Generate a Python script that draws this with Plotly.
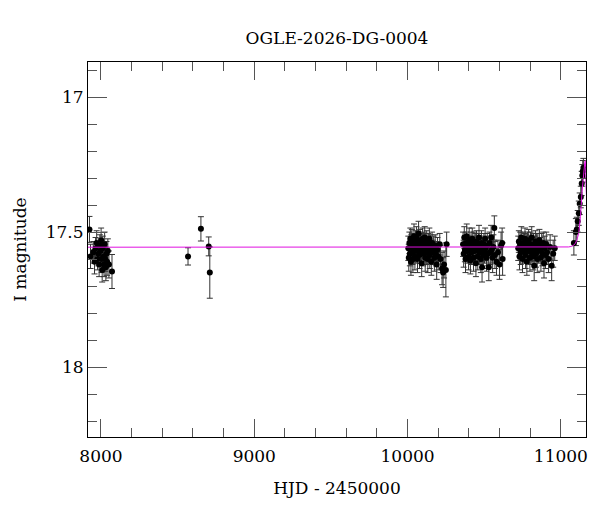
import plotly.graph_objects as go

# ---------------- data ----------------
s0_hjd = [7925, 7932, 7950, 7958, 7965, 7972, 7978, 7983, 7988, 7993, 7997, 8001, 8005,
          8008, 8012, 8016, 8020, 8024, 8028, 8032, 8036, 8040, 8045, 8052, 8072]
s0_mag = [17.490, 17.590, 17.575, 17.610, 17.560, 17.540, 17.600, 17.580, 17.620, 17.550,
          17.570, 17.530, 17.600, 17.640, 17.560, 17.590, 17.620, 17.545, 17.600, 17.630,
          17.580, 17.610, 17.570, 17.620, 17.646]
s0_err = [0.048, 0.045, 0.040, 0.045, 0.040, 0.045, 0.040, 0.045, 0.045, 0.040,
          0.045, 0.045, 0.050, 0.045, 0.045, 0.040, 0.045, 0.045, 0.045, 0.050,
          0.045, 0.050, 0.045, 0.050, 0.063]

iso_hjd = [8568, 8652, 8703, 8710]
iso_mag = [17.590, 17.488, 17.553, 17.650]
iso_err = [0.032, 0.045, 0.035, 0.095]

sa_hjd = [10005, 10008, 10012, 10015, 10018, 10022, 10025, 10028, 10032, 10035,
          10038, 10042, 10045, 10048, 10052, 10055, 10058, 10062, 10065, 10068,
          10072, 10075, 10078, 10082, 10085, 10088, 10092, 10095, 10098, 10102,
          10105, 10108, 10112, 10115, 10118, 10122, 10125, 10128, 10132, 10135,
          10138, 10142, 10145, 10150, 10155, 10160, 10165, 10170, 10175, 10180,
          10185, 10190, 10195, 10200, 10210, 10215, 10225, 10232, 10238, 10250, 10255]
sa_mag = [17.560, 17.595, 17.540, 17.580, 17.525, 17.610, 17.555, 17.530, 17.575, 17.600,
          17.545, 17.515, 17.565, 17.590, 17.535, 17.570, 17.520, 17.555, 17.600, 17.540,
          17.505, 17.560, 17.585, 17.530, 17.570, 17.545, 17.615, 17.555, 17.525, 17.580,
          17.540, 17.565, 17.520, 17.595, 17.550, 17.575, 17.535, 17.560, 17.600, 17.545,
          17.570, 17.525, 17.585, 17.555, 17.610, 17.540, 17.575, 17.560, 17.595, 17.550,
          17.580, 17.620, 17.565, 17.590, 17.545, 17.600, 17.635, 17.650, 17.620, 17.640, 17.545]
sa_err = [0.045, 0.050, 0.040, 0.045, 0.040, 0.050, 0.045, 0.040, 0.045, 0.050,
          0.040, 0.045, 0.045, 0.050, 0.040, 0.045, 0.040, 0.045, 0.050, 0.040,
          0.045, 0.045, 0.050, 0.040, 0.045, 0.040, 0.050, 0.045, 0.040, 0.045,
          0.040, 0.045, 0.040, 0.050, 0.045, 0.045, 0.040, 0.045, 0.050, 0.040,
          0.045, 0.040, 0.050, 0.045, 0.050, 0.040, 0.045, 0.045, 0.050, 0.040,
          0.045, 0.055, 0.045, 0.050, 0.040, 0.050, 0.060, 0.055, 0.050, 0.100, 0.045]

sb_hjd = [10362, 10366, 10370, 10374, 10378, 10382, 10386, 10390, 10394, 10398,
          10402, 10406, 10410, 10414, 10418, 10422, 10426, 10430, 10434, 10438,
          10442, 10446, 10450, 10454, 10458, 10462, 10466, 10470, 10474, 10478,
          10482, 10486, 10490, 10494, 10498, 10502, 10506, 10510, 10515, 10520,
          10525, 10530, 10535, 10540, 10545, 10550, 10555, 10560, 10566, 10570,
          10580, 10590, 10600, 10610, 10617, 10620]
sb_mag = [17.545, 17.580, 17.520, 17.565, 17.600, 17.540, 17.515, 17.570, 17.555, 17.590,
          17.530, 17.560, 17.605, 17.545, 17.575, 17.525, 17.560, 17.595, 17.540, 17.570,
          17.550, 17.615, 17.535, 17.565, 17.590, 17.545, 17.520, 17.575, 17.555, 17.600,
          17.540, 17.630, 17.565, 17.585, 17.545, 17.570, 17.525, 17.560, 17.595, 17.550,
          17.580, 17.630, 17.540, 17.575, 17.520, 17.565, 17.595, 17.555, 17.485, 17.585,
          17.610, 17.575, 17.620, 17.550, 17.540, 17.600]
sb_err = [0.045, 0.050, 0.040, 0.045, 0.050, 0.040, 0.045, 0.045, 0.040, 0.050,
          0.045, 0.040, 0.050, 0.045, 0.045, 0.040, 0.045, 0.050, 0.040, 0.045,
          0.045, 0.050, 0.040, 0.045, 0.050, 0.040, 0.045, 0.045, 0.040, 0.050,
          0.045, 0.055, 0.045, 0.050, 0.040, 0.045, 0.040, 0.045, 0.050, 0.045,
          0.045, 0.050, 0.040, 0.045, 0.045, 0.050, 0.055, 0.045, 0.045, 0.050,
          0.050, 0.045, 0.055, 0.050, 0.055, 0.060]

sc_hjd = [10722, 10726, 10730, 10734, 10738, 10742, 10746, 10750, 10754, 10758,
          10762, 10766, 10770, 10774, 10778, 10782, 10786, 10790, 10794, 10798,
          10802, 10806, 10810, 10814, 10818, 10822, 10826, 10830, 10834, 10838,
          10842, 10846, 10850, 10855, 10860, 10865, 10870, 10875, 10880, 10885,
          10890, 10895, 10900, 10905, 10910, 10920, 10930, 10940, 10950, 10960]
sc_mag = [17.560, 17.535, 17.590, 17.545, 17.575, 17.520, 17.560, 17.600, 17.540, 17.570,
          17.550, 17.525, 17.585, 17.555, 17.610, 17.540, 17.570, 17.530, 17.560, 17.595,
          17.545, 17.575, 17.520, 17.565, 17.590, 17.550, 17.625, 17.560, 17.535, 17.580,
          17.550, 17.600, 17.545, 17.570, 17.530, 17.565, 17.595, 17.550, 17.580, 17.540,
          17.615, 17.560, 17.585, 17.545, 17.575, 17.600, 17.555, 17.625, 17.580, 17.560]
sc_err = [0.045, 0.040, 0.050, 0.045, 0.045, 0.040, 0.045, 0.050, 0.040, 0.045,
          0.045, 0.040, 0.050, 0.045, 0.050, 0.040, 0.045, 0.040, 0.045, 0.050,
          0.045, 0.045, 0.040, 0.045, 0.050, 0.045, 0.055, 0.045, 0.040, 0.050,
          0.045, 0.050, 0.040, 0.045, 0.040, 0.045, 0.050, 0.045, 0.045, 0.040,
          0.055, 0.045, 0.050, 0.045, 0.045, 0.050, 0.045, 0.055, 0.050, 0.045]

rise_hjd = [11085, 11098, 11104, 11110, 11117, 11123, 11130, 11136, 11140, 11143, 11147]
rise_mag = [17.540, 17.500, 17.490, 17.460, 17.430, 17.395, 17.370, 17.320, 17.290, 17.275, 17.262]
rise_err = [0.045, 0.050, 0.045, 0.040, 0.045, 0.040, 0.040, 0.045, 0.040, 0.040, 0.035]

model_hjd = [7915, 11000, 11050, 11070, 11085, 11095, 11105, 11117, 11128, 11138,
             11149, 11156, 11159, 11162, 11164, 11175]
model_mag = [17.556, 17.556, 17.555, 17.553, 17.548, 17.541, 17.528, 17.503, 17.442, 17.354,
             17.269, 17.242, 17.236, 17.260, 17.330, 17.450]

x_range = [7915.5, 11164]
y_range = [18.259, 16.870]
x_tickvals = [8000, 9000, 10000, 11000]
y_tickvals = [17, 17.5, 18]
y_ticktext = ["17", "17.5", "18"]

# ---------------- figure ----------------
hjd = s0_hjd + iso_hjd + sa_hjd + sb_hjd + sc_hjd + rise_hjd
mag = s0_mag + iso_mag + sa_mag + sb_mag + sc_mag + rise_mag
err = s0_err + iso_err + sa_err + sb_err + sc_err + rise_err

FONT = "DejaVu Serif"

fig = go.Figure()
fig.add_trace(go.Scatter(
    x=hjd, y=mag, mode="markers",
    marker=dict(color="black", size=6),
    error_y=dict(type="data", array=err, visible=True, color="#333333",
                 thickness=1, width=3),
    showlegend=False, hoverinfo="skip"))
fig.add_trace(go.Scatter(
    x=model_hjd, y=model_mag, mode="lines",
    line=dict(color="#e010e0", width=1),
    showlegend=False, hoverinfo="skip"))

# the page body has an 8px margin, so the figure is 592x504 and offset accordingly
W, H = 592, 504
fig.update_layout(
    width=W, height=H,
    margin=dict(l=79, r=13, t=54, b=75),
    paper_bgcolor="white", plot_bgcolor="white",
    font=dict(family=FONT, size=17, color="black"),
    title=dict(text="OGLE-2026-DG-0004", x=(79 + 250) / W, xanchor="center",
               y=1 - 30 / H, yanchor="middle",
               font=dict(family=FONT, size=17, color="black")),
)
fig.update_xaxes(
    range=x_range, showgrid=False, zeroline=False,
    showline=True, linecolor="black", linewidth=1, mirror="ticks",
    ticks="inside", ticklen=18, tickcolor="#555555", tickwidth=1,
    tickvals=x_tickvals, ticktext=[str(v) for v in x_tickvals],
    ticklabelstandoff=4,
    minor=dict(ticks="inside", ticklen=9, dtick=200, tick0=8000,
               tickcolor="#555555", tickwidth=1, showgrid=False),
    tickfont=dict(family=FONT, size=17),
    title=dict(text="HJD - 2450000", font=dict(family=FONT, size=17), standoff=16),
)
fig.update_yaxes(
    range=y_range, showgrid=False, zeroline=False,
    showline=True, linecolor="black", linewidth=1, mirror="ticks",
    ticks="inside", ticklen=19, tickcolor="#555555", tickwidth=1,
    tickvals=y_tickvals, ticktext=y_ticktext,
    minor=dict(ticks="inside", ticklen=9, dtick=0.1, tick0=17,
               tickcolor="#555555", tickwidth=1, showgrid=False),
    tickfont=dict(family=FONT, size=17),
    title=dict(text="I magnitude", font=dict(family=FONT, size=17), standoff=14),
)

fig.write_html("out.html")
